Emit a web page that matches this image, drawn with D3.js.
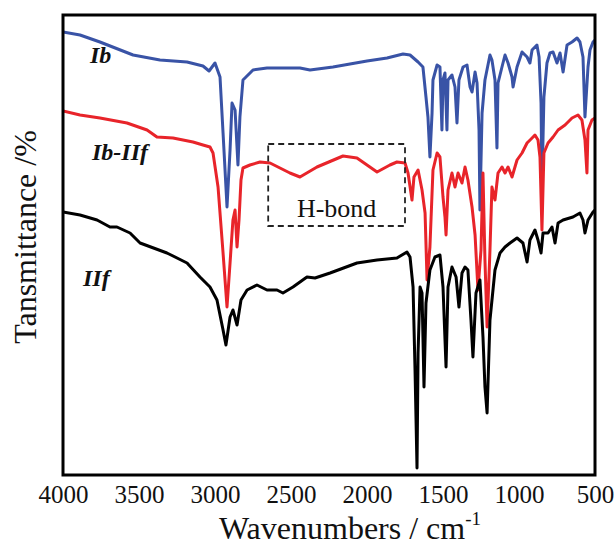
<!DOCTYPE html>
<html lang="en">

<head>
    <meta charset="UTF-8">
    <title>FTIR</title>
    <script src="https://cdn.jsdelivr.net/npm/d3@7/dist/d3.min.js"></script>
    <style>
        body { margin: 0; background: #fff; }
        text { font-family: "Liberation Serif", "Times New Roman", serif; fill: #111; }
    </style>
</head>

<body>
    <script>
        // wavenumber (cm-1), transmittance (arbitrary, offset per curve)
        let ibWave = [4000, 3888, 3757, 3539, 3362, 3184, 3079, 3039, 3000, 2967, 2947, 2921, 2901, 2888, 2868, 2849, 2836, 2816, 2750, 2658, 2441, 2375, 2224, 2000, 1868, 1763, 1717, 1664, 1632, 1612, 1599, 1586, 1572, 1566, 1539, 1520, 1507, 1500, 1487, 1474, 1467, 1441, 1421, 1408, 1395, 1368, 1342, 1322, 1309, 1289, 1276, 1263, 1257, 1243, 1224, 1191, 1178, 1158, 1145, 1138, 1112, 1092, 1072, 1046, 1039, 1013, 980, 947, 928, 914, 882, 868, 855, 849, 836, 816, 796, 776, 750, 730, 710, 684, 651, 618, 599, 579, 566, 546, 533, 513, 500];
        let ibT = [88.6, 88, 86.6, 84, 83, 82.6, 81.8, 80.8, 82.4, 79.6, 68.4, 53.6, 65, 74.4, 73, 62, 71.6, 79, 81, 81.4, 81.4, 81, 81.6, 82.8, 83.4, 84.2, 84, 82.6, 81.6, 75.6, 71.6, 63.6, 72.4, 79, 82, 81.6, 69, 79, 80.4, 69, 79, 80, 77.6, 70.4, 79, 81.6, 82, 77.6, 76.6, 80.6, 78.4, 69, 53, 72.4, 79, 84, 83, 79, 65.4, 78.4, 81.6, 84, 82.4, 79.6, 77.6, 81.6, 84.6, 83.6, 82.4, 85, 86, 83.6, 74.4, 57.6, 75.6, 82.4, 84.4, 84.6, 82.4, 84.4, 80.6, 86, 86.6, 87.4, 86.6, 83.6, 71.6, 81.6, 85, 86.6, 87];

        let mixWave = [4000, 3888, 3757, 3579, 3447, 3382, 3276, 3145, 3079, 3033, 3013, 2980, 2947, 2921, 2901, 2882, 2868, 2855, 2842, 2829, 2816, 2770, 2704, 2638, 2507, 2441, 2329, 2158, 2066, 1934, 1849, 1803, 1750, 1730, 1704, 1691, 1664, 1638, 1618, 1605, 1586, 1566, 1539, 1520, 1500, 1487, 1480, 1467, 1441, 1421, 1401, 1375, 1355, 1336, 1309, 1289, 1270, 1250, 1237, 1224, 1210, 1191, 1178, 1158, 1138, 1112, 1092, 1072, 1046, 1013, 980, 947, 914, 895, 875, 862, 849, 836, 809, 776, 743, 697, 651, 612, 586, 566, 553, 546, 520, 500];
        let mixT = [72.8, 72, 71.4, 70.4, 69, 67.6, 67.4, 66.6, 66, 65.6, 64.4, 57.6, 44.4, 33.6, 42.4, 51, 53, 45.6, 51, 59, 61.4, 62, 62.6, 62.4, 60.4, 59.6, 61.6, 63.8, 63.4, 60.6, 62, 62.6, 62.4, 60.4, 55, 59.6, 61, 57, 52.4, 39, 45.6, 61, 64.4, 63.6, 55.6, 51.6, 48, 57, 60.4, 57.6, 60.4, 58.4, 61.6, 59, 53.6, 48, 37, 45, 60.4, 43, 29.6, 45, 57.6, 55, 60.4, 61.6, 60.4, 61.6, 59.6, 63, 64.4, 66.4, 67.4, 68, 67, 63.6, 49, 64.4, 66.4, 67.6, 69, 70, 71.4, 72, 71, 67, 60.4, 69, 71, 71.4];

        let iifWave = [4000, 3888, 3776, 3691, 3645, 3559, 3493, 3316, 3184, 3099, 3033, 2987, 2947, 2928, 2901, 2882, 2855, 2829, 2789, 2724, 2658, 2592, 2553, 2487, 2395, 2342, 2243, 2066, 1934, 1803, 1737, 1717, 1697, 1684, 1671, 1664, 1651, 1638, 1625, 1612, 1586, 1553, 1520, 1500, 1480, 1467, 1441, 1414, 1395, 1375, 1355, 1336, 1316, 1303, 1283, 1257, 1237, 1224, 1210, 1191, 1158, 1125, 1092, 1059, 1013, 974, 947, 928, 895, 875, 855, 842, 809, 783, 763, 743, 710, 645, 599, 579, 566, 546, 513, 500];
        let iifT = [52.6, 52, 51, 49.6, 49.6, 48.4, 46.4, 44.4, 42.4, 39.6, 37.6, 35, 29, 26, 31.6, 33, 30, 35, 37, 38, 37, 37, 36.4, 37.6, 39.6, 39.4, 40.4, 42.4, 43, 43.4, 44.6, 43.6, 37.6, 21, 1.4, 24.4, 37.6, 36.4, 17.6, 34.4, 41, 43.6, 44, 37.6, 21.6, 37.6, 41.6, 39.6, 33.6, 40.4, 41.6, 41, 31, 23.6, 36.4, 39, 27.6, 17.6, 12.4, 31, 41, 44.4, 45.6, 46.4, 47.4, 46.4, 42.6, 47, 49, 47, 44.4, 48.4, 48.4, 49.6, 46.4, 50.4, 51, 51.6, 52.4, 51, 48.4, 51, 52.6, 53];

        let xTicks = [4000, 3500, 3000, 2500, 2000, 1500, 1000, 500];

        let series = [
            { name: 'Ib', wave: ibWave, t: ibT, color: '#3953a6', lx: 90, ly: 63 },
            { name: 'Ib-IIf', wave: mixWave, t: mixT, color: '#e8242a', lx: 92, ly: 160 },
            { name: 'IIf', wave: iifWave, t: iifT, color: '#000', lx: 83, ly: 286 }
        ];

        let pLeft = 63, pRight = 595, pTop = 15, pBottom = 475;

        let svg = d3.select('body').append('svg')
            .attr('width', 616)
            .attr('height', 545);

        let x = d3.scaleLinear().domain([4000, 500]).range([pLeft, pRight]);
        let y = d3.scaleLinear().domain([0, 92]).range([pBottom, pTop]);

        let line = d3.line()
            .x(d => x(d[0]))
            .y(d => y(d[1]));

        svg.append('clipPath').attr('id', 'plot')
            .append('rect')
            .attr('x', pLeft).attr('y', pTop)
            .attr('width', pRight - pLeft).attr('height', pBottom - pTop);

        svg.append('g').attr('clip-path', 'url(#plot)')
            .selectAll('path').data(series)
            .enter()
            .append('path')
            .attr('d', d => line(d.wave.map((w, i) => [w, d.t[i]])))
            .attr('fill', 'none')
            .attr('stroke', d => d.color)
            .attr('stroke-width', 3)
            .attr('stroke-linejoin', 'round');

        // frame
        svg.append('rect')
            .attr('x', pLeft).attr('y', pTop)
            .attr('width', pRight - pLeft).attr('height', pBottom - pTop)
            .attr('fill', 'none')
            .attr('stroke', '#000')
            .attr('stroke-width', 3);

        // x axis labels only, no tick marks
        let xAxis = svg.append('g')
            .attr('transform', `translate(0, ${pBottom})`)
            .call(d3.axisBottom(x).tickValues(xTicks).tickSize(0).tickPadding(10).tickFormat(d3.format('d')));
        xAxis.select('.domain').remove();
        xAxis.selectAll('text')
            .style('font-family', '"Liberation Serif", serif')
            .style('font-size', '25px')
            .attr('fill', '#111');

        // curve names
        svg.selectAll('.name').data(series)
            .enter()
            .append('text')
            .attr('class', 'name')
            .attr('x', d => d.lx)
            .attr('y', d => d.ly)
            .style('font-size', '24px')
            .style('font-weight', 'bold')
            .style('font-style', 'italic')
            .text(d => d.name);

        // H-bond box
        svg.append('rect')
            .attr('x', x(2650)).attr('y', 144)
            .attr('width', x(1750) - x(2650)).attr('height', 82)
            .attr('fill', 'none')
            .attr('stroke', '#222')
            .attr('stroke-width', 1.8)
            .attr('stroke-dasharray', '6,4');
        svg.append('text')
            .attr('x', x(2200))
            .attr('y', 217)
            .attr('text-anchor', 'middle')
            .style('font-size', '26px')
            .text('H-bond');

        // axis titles
        let xt = svg.append('text')
            .attr('x', 350)
            .attr('y', 539)
            .attr('text-anchor', 'middle')
            .style('font-size', '32px');
        xt.append('tspan').text('Wavenumbers / cm');
        xt.append('tspan').attr('dy', -14).style('font-size', '19px').text('-1');

        svg.append('text')
            .attr('transform', 'translate(36, 237) rotate(-90)')
            .attr('text-anchor', 'middle')
            .style('font-size', '32px')
            .text('Tansmittance /%');
    </script>
</body>

</html>
